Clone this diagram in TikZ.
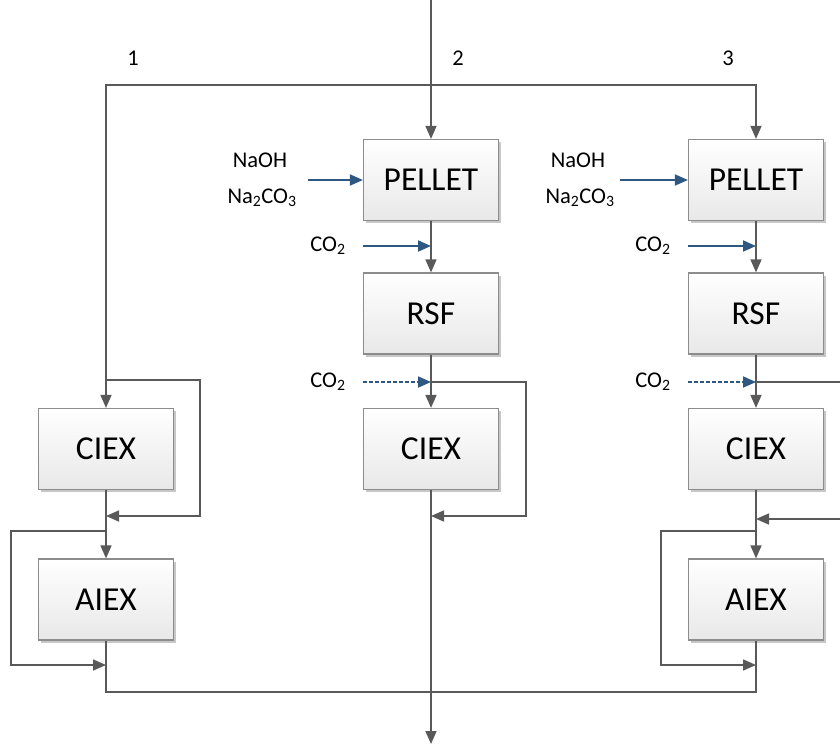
\documentclass[tikz,border=0pt]{standalone}
\usepackage{fontspec}
\setmainfont{Carlito}
\usetikzlibrary{arrows.meta,shadows}
\definecolor{lineg}{RGB}{89,89,89}
\definecolor{boxd}{RGB}{140,140,140}
\definecolor{flowb}{RGB}{46,88,130}
\tikzset{
  unit/.style={draw=boxd, line width=1.2pt, top color=white, bottom color=black!9,
    minimum width=135pt, minimum height=81pt, inner sep=0pt,
    font=\fontsize{33.5}{38}\selectfont,
    drop shadow={shadow xshift=2.5pt, shadow yshift=-2.5pt, fill=black!22, opacity=1}},
  conn/.style={draw=lineg, line width=1.6pt},
  arr/.style={conn, -{Triangle[length=13pt,width=11pt]}},
  barr/.style={conn, {Triangle[length=13pt,width=11pt]}-{Triangle[length=13pt,width=11pt]}},
  feed/.style={draw=flowb, line width=1.8pt, -{Triangle[length=13pt,width=11pt]}},
  dfeed/.style={feed, dash pattern=on 3.5pt off 2.5pt},
  lbl/.style={font=\fontsize{22.5}{26}\selectfont, inner sep=0pt}
}
\begin{document}
\begin{tikzpicture}[x=1pt,y=-1pt]
\path[use as bounding box] (0,0) rectangle (840,744);
% boxes
\node[unit] (c1) at (106,449) {CIEX};
\node[unit] (a1) at (106,599.5) {AIEX};
\node[unit] (p2) at (431,180) {PELLET};
\node[unit] (r2) at (431,313.5) {RSF};
\node[unit] (c2) at (431,449) {CIEX};
\node[unit] (p3) at (756,180) {PELLET};
\node[unit] (r3) at (756,313.5) {RSF};
\node[unit] (c3) at (756,449) {CIEX};
\node[unit] (a3) at (756,599.5) {AIEX};
% labels
\node[lbl] (n1) at (133,58) {1};
\node[lbl] (n2) at (458,58) {2};
\node[lbl] (n3) at (728,58) {3};
\node[lbl] (naoh2) at (260,160) {NaOH};
\node[lbl] (na2) at (262,198) {Na\textsubscript{2}CO\textsubscript{3}};
\node[lbl] (naoh3) at (578,160) {NaOH};
\node[lbl] (na3) at (580,198) {Na\textsubscript{2}CO\textsubscript{3}};
\node[lbl] (co2a) at (328,246) {CO\textsubscript{2}};
\node[lbl] (co2b) at (328,382) {CO\textsubscript{2}};
\node[lbl] (co3a) at (653,246) {CO\textsubscript{2}};
\node[lbl] (co3b) at (653,382) {CO\textsubscript{2}};
% coordinates
\coordinate (top) at (431,0);
\coordinate (bot) at (431,744);
\coordinate (h1) at (106,85);
\coordinate (h3) at (756,85);
\coordinate (j1a) at (106,380);
\coordinate (r1a) at (200,380);
\coordinate (r1b) at (200,516);
\coordinate (j1b) at (106,516);
\coordinate (k1a) at (106,531);
\coordinate (l1a) at (11,531);
\coordinate (l1b) at (11,665);
\coordinate (k1b) at (106,665);
\coordinate (b1) at (106,692);
\coordinate (b3) at (756,692);
\coordinate (j2a) at (431,382);
\coordinate (r2a) at (526,382);
\coordinate (r2b) at (526,516);
\coordinate (j2b) at (431,516);
\coordinate (j3a) at (756,382);
\coordinate (e3a) at (840,382);
\coordinate (e3b) at (840,519);
\coordinate (j3b) at (756,519);
\coordinate (k3a) at (756,531);
\coordinate (l3a) at (661,531);
\coordinate (l3b) at (661,665);
\coordinate (k3b) at (756,665);
\coordinate (f2) at (308,180);
\coordinate (f3) at (620,180);
\coordinate (g2a) at (363,246);
\coordinate (g2a') at (431,246);
\coordinate (g2b) at (363,382);
\coordinate (g3a) at (688,246);
\coordinate (g3a') at (756,246);
\coordinate (g3b) at (688,382);
% main lines
\draw[arr] (top) -- (p2.north);
\draw[barr] (p3.north) -- (h3) -- (h1) -- (c1.north);
% column 1
\draw[arr] (j1a) -- (r1a) -- (r1b) -- (j1b);
\draw[arr] (c1.south) -- (a1.north);
\draw[arr] (k1a) -- (l1a) -- (l1b) -- (k1b);
\draw[conn] (a1.south) -- (b1) -- (b3) -- (a3.south);
% column 2
\draw[arr] (p2.south) -- (r2.north);
\draw[arr] (r2.south) -- (c2.north);
\draw[arr] (j2a) -- (r2a) -- (r2b) -- (j2b);
\draw[arr] (c2.south) -- (bot);
% column 3
\draw[arr] (p3.south) -- (r3.north);
\draw[arr] (r3.south) -- (c3.north);
\draw[conn] (j3a) -- (e3a);
\draw[arr] (e3b) -- (j3b);
\draw[arr] (c3.south) -- (a3.north);
\draw[arr] (k3a) -- (l3a) -- (l3b) -- (k3b);
% feeds
\draw[feed] (f2) -- (p2.west);
\draw[feed] (f3) -- (p3.west);
\draw[feed] (g2a) -- (g2a');
\draw[dfeed] (g2b) -- (j2a);
\draw[feed] (g3a) -- (g3a');
\draw[dfeed] (g3b) -- (j3a);
\end{tikzpicture}
\end{document}
